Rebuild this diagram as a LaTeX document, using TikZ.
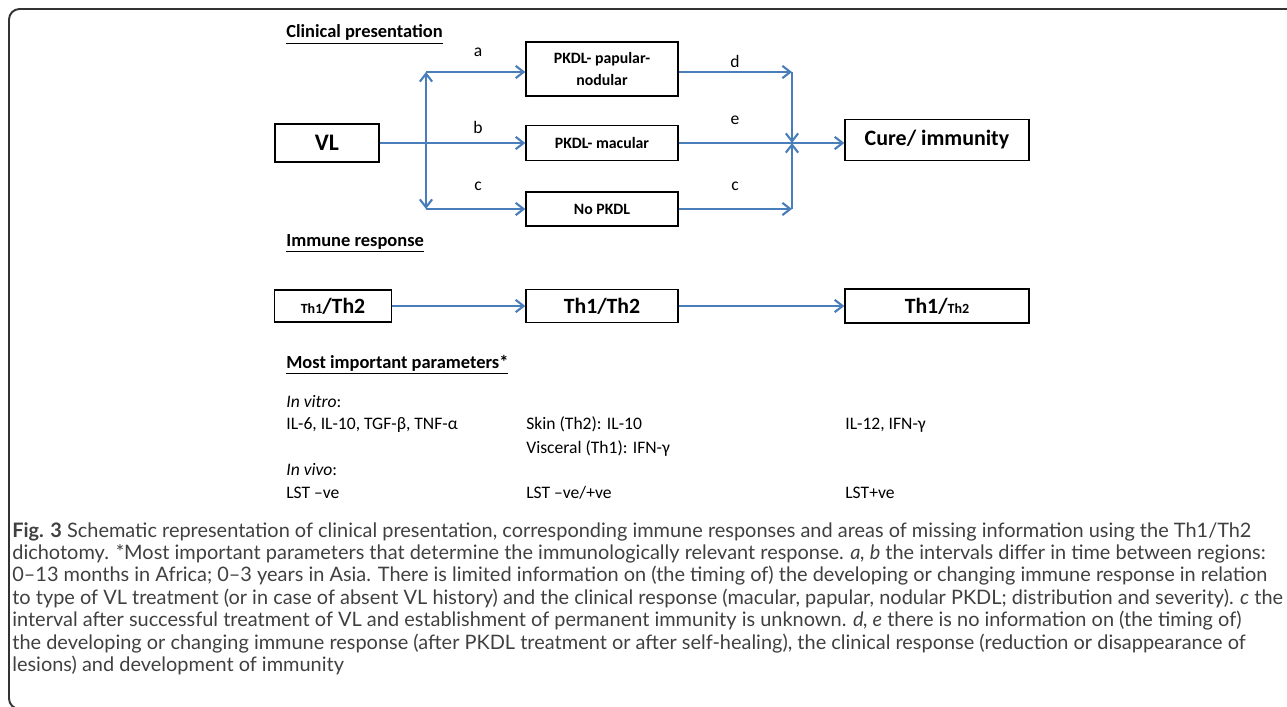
\documentclass[tikz,border=0pt]{standalone}
\usepackage{fontspec}
\setmainfont{Carlito}
\newfontfamily\capfont{Lato}
\usetikzlibrary{arrows.meta}
\definecolor{linkblue}{HTML}{4A7EBB}

\begin{document}
\begin{tikzpicture}[x=0.02cm, y=-0.02cm,
  box/.style={draw, line width=0.8pt, inner sep=0pt, align=center, font=\bfseries},
  link/.style={draw=linkblue, line width=1.2pt, -{Straight Barb[length=4.5pt, width=7pt]}},
  lbl/.style={font=\fontsize{10}{12}\selectfont},
  head/.style={anchor=base west, inner sep=0pt, font=\fontsize{10.5}{12}\selectfont\bfseries},
  param/.style={anchor=base west, inner sep=0pt, font=\fontsize{10}{12}\selectfont}]
  \useasboundingbox (0, 0) rectangle (1287, 706);
  \begin{scope}
    \clip (0, 0) rectangle (1287, 706);
    \draw[black!80, line width=1.1pt, rounded corners=6pt] (9, 9) rectangle (1320, 709);
  \end{scope}

  % clinical presentation
  \node[head] (hclin) at (286, 38) {\underline{Clinical presentation}};
  \node[box, minimum width=2.08cm, minimum height=0.76cm, font=\fontsize{13.5}{16}\selectfont\bfseries] (vl) at (327, 143) {VL};
  \node[box, minimum width=3.04cm, minimum height=1.08cm, font=\fontsize{9}{12}\selectfont\bfseries] (pap) at (602, 69) {PKDL- papular-\\nodular};
  \node[box, minimum width=3.04cm, minimum height=0.70cm, font=\fontsize{9}{12}\selectfont\bfseries] (mac) at (602, 143) {PKDL- macular};
  \node[box, minimum width=3.04cm, minimum height=0.68cm, font=\fontsize{9}{12}\selectfont\bfseries] (nop) at (602, 209) {No PKDL};
  \node[box, minimum width=3.68cm, minimum height=0.82cm, font=\fontsize{12.5}{15}\selectfont\bfseries] (cure) at (937, 140) {Cure/ immunity};

  \coordinate (splitT) at (426, 72);
  \coordinate (splitB) at (426, 209);
  \coordinate (joinT) at (792, 72);
  \coordinate (joinB) at (792, 209);
  \coordinate (join) at (792, 143);

  \draw[link] (vl) -- (mac);
  \draw[link, {Straight Barb[length=4.5pt, width=7pt]}-{Straight Barb[length=4.5pt, width=7pt]}] (splitB) -- (splitT);
  \draw[link] (splitT) -- (splitT -| pap.west);
  \draw[link] (splitB) -- (nop);
  \draw[link] (pap.east |- joinT) -- (joinT);
  \draw[link] (nop) -- (joinB);
  \draw[link] (joinT) -- (join);
  \draw[link] (joinB) -- (join);
  \draw[link] (mac) -- (mac -| cure.west);

  \node[lbl] (la) at (478, 52) {a};
  \node[lbl] (lb) at (478, 127) {b};
  \node[lbl] (lc) at (478, 186) {c};
  \node[lbl] (ld) at (735, 61) {d};
  \node[lbl] (le) at (735, 120) {e};
  \node[lbl] (lc2) at (735, 186) {c};

  % immune response
  \node[head] (himm) at (286, 246) {\underline{Immune response}};
  \node[box, minimum width=2.34cm, minimum height=0.64cm, font=\fontsize{12.4}{15}\selectfont\bfseries] (th1) at (333, 306) {{\fontsize{8}{10}\selectfont Th1}/Th2};
  \node[box, minimum width=3.04cm, minimum height=0.66cm, font=\fontsize{12.4}{15}\selectfont\bfseries] (th2) at (602, 306) {Th1/Th2};
  \node[box, minimum width=3.68cm, minimum height=0.68cm, font=\fontsize{12.4}{15}\selectfont\bfseries] (th3) at (937, 306) {Th1/{\fontsize{8}{10}\selectfont Th2}};
  \draw[link] (th1) -- (th2);
  \draw[link] (th2) -- (th3);

  % parameters
  \node[head] (hpar) at (286, 368) {\underline{Most important parameters*}};
  \node[param] (vitro) at (286, 407) {\textit{In vitro}:};
  \node[param] (p1) at (286, 429) {IL-6, IL-10, TGF-β, TNF-α};
  \node[param] (p2) at (526, 429) {Skin (Th2): IL-10};
  \node[param] (p2b) at (526, 453) {Visceral (Th1): IFN-γ};
  \node[param] (p3) at (845, 429) {IL-12, IFN-γ};
  \node[param] (vivo) at (286, 475) {\textit{In vivo}:};
  \node[param] (q1) at (286, 498) {LST –ve};
  \node[param] (q2) at (526, 498) {LST –ve/+ve};
  \node[param] (q3) at (845, 498) {LST+ve};

  % caption
  \node[anchor=north west, align=left, inner sep=0pt, text=black!75, font=\capfont\fontsize{11.35}{12.75}\selectfont] (cap) at (12, 522)
    {\textbf{Fig. 3} Schematic representation of clinical presentation, corresponding immune responses and areas of missing information using the Th1/Th2\\
     dichotomy. *Most important parameters that determine the immunologically relevant response. \textit{a, b} the intervals differ in time between regions:\\
     0–13 months in Africa; 0–3 years in Asia. There is limited information on (the timing of) the developing or changing immune response in relation\\
     to type of VL treatment (or in case of absent VL history) and the clinical response (macular, papular, nodular PKDL; distribution and severity). \textit{c} the\\
     interval after successful treatment of VL and establishment of permanent immunity is unknown. \textit{d, e} there is no information on (the timing of)\\
     the developing or changing immune response (after PKDL treatment or after self-healing), the clinical response (reduction or disappearance of\\
     lesions) and development of immunity};
\end{tikzpicture}
\end{document}
